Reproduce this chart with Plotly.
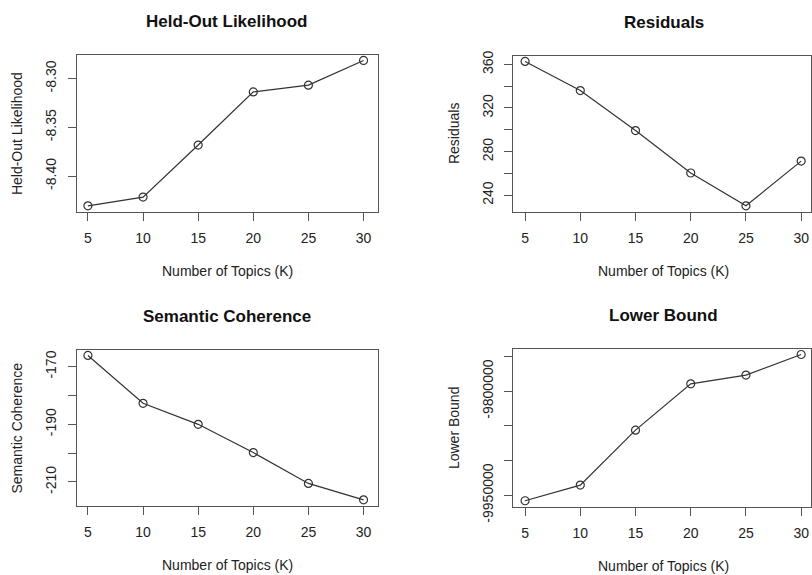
import plotly.graph_objects as go

W, H = 812, 575

K = [5, 10, 15, 20, 25, 30]
heldout = [-8.4305, -8.4216, -8.3682, -8.3137, -8.3068, -8.2815]
residuals = [362.7, 336.0, 299.3, 260.4, 230.3, 271.3]
semcoh = [-166.1, -182.7, -190.0, -199.8, -210.5, -216.2]
lbound = [-9958100, -9935500, -9856200, -9789400, -9776800, -9747100]

x_ticks = [5, 10, 15, 20, 25, 30]
ho_ticks = [-8.40, -8.35, -8.30]
ho_text = ["-8.40", "-8.35", "-8.30"]
res_ticks = [240, 260, 280, 300, 320, 340, 360]
res_text = ["240", "", "280", "", "320", "", "360"]
sc_ticks = [-210, -200, -190, -180, -170]
sc_text = ["-210", "", "-190", "", "-170"]
lb_ticks = [-9950000, -9900000, -9850000, -9800000, -9750000]
lb_text = ["-9950000", "", "", "-9800000", ""]

titles = ["Held-Out Likelihood", "Residuals", "Semantic Coherence", "Lower Bound"]
ylabels = ["Held-Out Likelihood", "Residuals", "Semantic Coherence", "Lower Bound"]
xlabel = "Number of Topics (K)"

def rrange(v):
    lo, hi = min(v), max(v)
    s = hi - lo
    return [lo - 0.04 * s, hi + 0.04 * s]

# vertical compensation (rendered y ~= S*y + C)
S, C = 0.97, 3.0
def py(y):
    return 1 - ((y - C) / S) / H

# panel boxes in target pixels: (left, right, top, bottom)
boxes = [
    (77, 378, 53, 211),
    (514, 812, 54, 211),
    (77, 378, 350, 507),
    (514, 812, 349, 508),
]
xranges = [[4.0, 31.27], [3.94, 30.89], [4.0, 31.27], [3.94, 30.89]]

FONT = "Liberation Sans, Arial, sans-serif"
LINE = "#333333"
BOX = "#555555"

fig = go.Figure()
series = [heldout, residuals, semcoh, lbound]
yt = [(ho_ticks, ho_text), (res_ticks, res_text), (sc_ticks, sc_text), (lb_ticks, lb_text)]

annotations = []
for i, (vals, (tv, tt), box) in enumerate(zip(series, yt, boxes)):
    n = "" if i == 0 else str(i + 1)
    xa, ya = "x" + n, "y" + n
    fig.add_trace(go.Scatter(
        x=K, y=vals, mode="lines+markers", xaxis=xa, yaxis=ya,
        line=dict(color=LINE, width=1.2),
        marker=dict(symbol="circle-open", size=8, color=LINE, line=dict(width=1.2)),
        showlegend=False, hoverinfo="skip",
    ))
    l, r, t, b = box
    axcommon = dict(
        showgrid=False, zeroline=False, showline=True, mirror=True,
        linecolor=BOX, linewidth=1.2, ticks="outside", ticklen=8,
        tickcolor=BOX, tickwidth=1,
        tickfont=dict(family=FONT, size=14, color="#222222"),
    )
    fig.update_layout(**{
        ("xaxis" + n): dict(
            domain=[l / W, r / W], range=xranges[i], anchor=ya,
            tickvals=x_ticks, ticktext=[str(k) for k in x_ticks],
            ticklabelstandoff=5, **axcommon),
        ("yaxis" + n): dict(
            domain=[py(b), py(t)], range=rrange(vals), anchor=xa,
            tickvals=tv, ticktext=tt, tickangle=-90,
            ticklabelstandoff=6, **axcommon),
    })
    cx = (l + (l + 301)) / 2 / W
    annotations.append(dict(
        text="<b>" + titles[i] + "</b>", x=cx, y=py(t - 33),
        xref="paper", yref="paper", showarrow=False,
        font=dict(family=FONT, size=17, color="#111111"),
        xanchor="center", yanchor="middle"))
    annotations.append(dict(
        text=xlabel, x=cx, y=py(b + 60),
        xref="paper", yref="paper", showarrow=False,
        font=dict(family=FONT, size=14, color="#222222"),
        xanchor="center", yanchor="middle"))
    annotations.append(dict(
        text=ylabels[i], x=(l - 60) / W, y=py((t + b) / 2),
        xref="paper", yref="paper", showarrow=False, textangle=-90,
        font=dict(family=FONT, size=14, color="#222222"),
        xanchor="center", yanchor="middle"))

fig.update_layout(
    width=W, height=H, margin=dict(l=0, r=0, t=0, b=0),
    paper_bgcolor="white", plot_bgcolor="white",
    annotations=annotations,
)

fig.write_html("out.html", config={"responsive": False})
